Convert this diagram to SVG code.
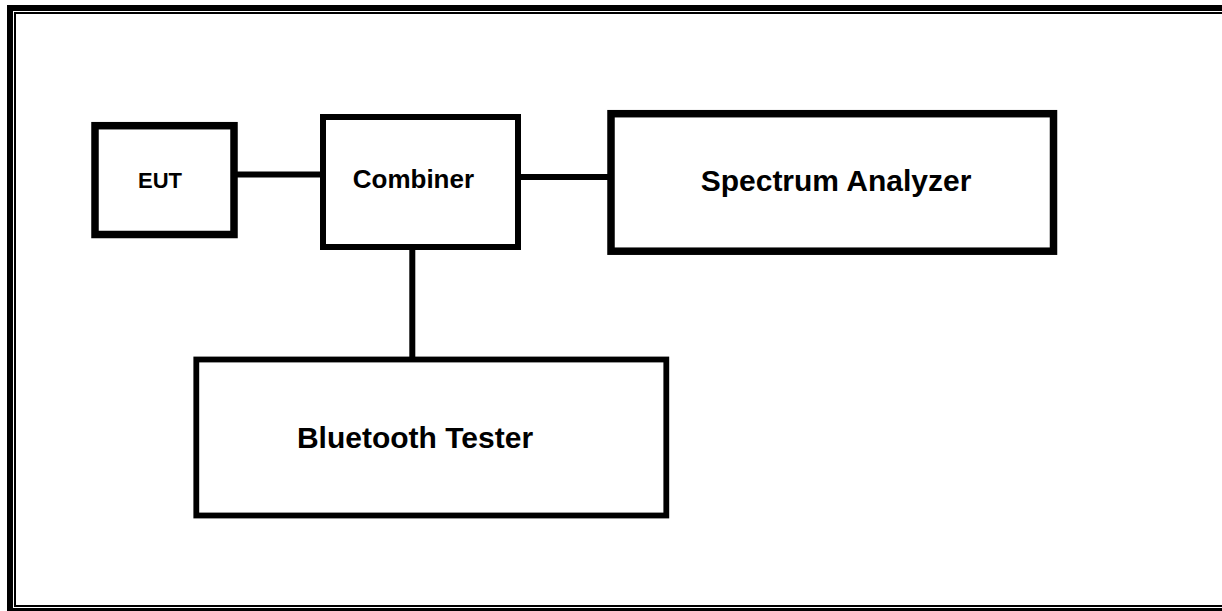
<svg xmlns="http://www.w3.org/2000/svg" width="1222" height="611" viewBox="0 0 1222 611">
<style>
.box{fill:#fff;stroke:#000}
.lbl{font-family:"Liberation Sans",Arial,sans-serif;font-weight:bold;fill:#000;text-anchor:middle}
.conn{stroke:#000;stroke-width:6;fill:none}
</style>
<rect width="1222" height="611" fill="#fff"/>
<g id="frame" fill="none" stroke="#000">
<path d="M1230,8 H10 V620" stroke-width="6"/>
<path d="M1230,13 H15 V606 H1230" stroke-width="2"/>
<path d="M10,609.5 H1230" stroke-width="3"/>
</g>
<g id="connectors">
<line class="conn" x1="236" y1="174.5" x2="322" y2="174.5" stroke-width="7"/>
<line class="conn" x1="519" y1="177" x2="610" y2="177"/>
<line class="conn" x1="412.3" y1="248" x2="412.3" y2="358"/>
</g>
<g id="eut">
<rect class="box" x="95" y="125.7" width="139" height="108.8" stroke-width="7.5"/>
<text class="lbl" x="160" y="188" font-size="22">EUT</text>
</g>
<g id="combiner">
<rect class="box" x="323" y="117" width="195" height="130" stroke-width="6"/>
<text class="lbl" x="413.4" y="188.3" font-size="26">Combiner</text>
</g>
<g id="spectrum">
<rect class="box" x="611" y="113.7" width="442.5" height="137.5" stroke-width="7.5"/>
<text class="lbl" x="836" y="190.7" font-size="30">Spectrum Analyzer</text>
</g>
<g id="bluetooth">
<rect class="box" x="196.3" y="359.5" width="470" height="156" stroke-width="5.8"/>
<text class="lbl" x="415" y="448.3" font-size="30">Bluetooth Tester</text>
</g>
</svg>
